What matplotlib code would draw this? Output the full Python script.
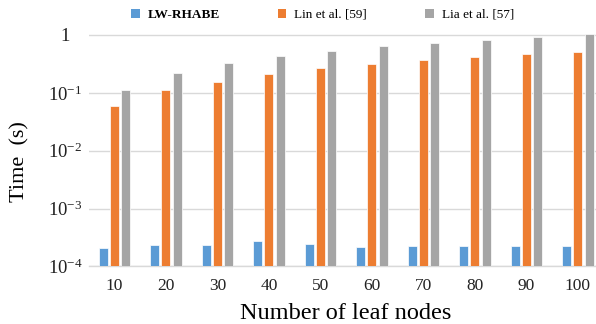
import matplotlib.pyplot as plt
import numpy as np
from matplotlib.patches import Patch

plt.rcParams["font.family"] = ["Liberation Serif", "DejaVu Serif"]
plt.rcParams["mathtext.fontset"] = "custom"
plt.rcParams["mathtext.rm"] = "Liberation Serif"
plt.rcParams["mathtext.it"] = "Liberation Serif:italic"
plt.rcParams["mathtext.bf"] = "Liberation Serif:bold"

# leaf node counts and times in seconds
leaf_nodes = ["10", "20", "30", "40", "50", "60", "70", "80", "90", "100"]
lw_rhabe = [2.08e-4, 2.38e-4, 2.31e-4, 2.71e-4, 2.47e-4, 2.19e-4, 2.28e-4, 2.28e-4, 2.28e-4, 2.28e-4]
lin_59 = [0.0597, 0.110, 0.157, 0.211, 0.264, 0.318, 0.364, 0.410, 0.462, 0.514]
lia_57 = [0.111, 0.219, 0.327, 0.427, 0.528, 0.644, 0.736, 0.820, 0.935, 1.03]

series_names = ["LW-RHABE", "Lin et al. [59]", "Lia et al. [57]"]
colors = ["#5B9BD5", "#ED7D31", "#A5A5A5"]

fig = plt.figure(figsize=(5.96, 3.24), dpi=100)
ax = fig.add_axes([0.1487, 0.1775, 0.864, 0.722])

x = np.arange(len(leaf_nodes))
pitch = 0.2185
width = 0.175
for i, (vals, c) in enumerate(zip([lw_rhabe, lin_59, lia_57], colors)):
    ax.bar(x + (i - 1) * pitch, vals, width, color=c, edgecolor="white",
           linewidth=0.5, zorder=3)

ax.set_yscale("log")
ax.set_ylim(1e-4, 1.1)
ax.set_xlim(-0.5, len(leaf_nodes) - 0.5)
ax.set_yticks([1e-4, 1e-3, 1e-2, 1e-1, 1])
ax.set_yticklabels([r"$10^{-4}$", r"$10^{-3}$", r"$10^{-2}$", r"$10^{-1}$", "1"])
ax.minorticks_off()
ax.set_xticks(x)
ax.set_xticklabels(leaf_nodes)
ax.tick_params(axis="both", length=0, labelsize=12.5, colors="#222222")
ax.tick_params(axis="y", labelsize=13.5, pad=17)
ax.tick_params(axis="x", pad=8)
for lab in ax.get_yticklabels():
    lab.set_horizontalalignment("center")

ax.grid(axis="y", color="#D9D9D9", linewidth=1, zorder=0)
for side in ["left", "right", "top"]:
    ax.spines[side].set_visible(False)
ax.spines["bottom"].set_color("#D9D9D9")
ax.spines["bottom"].set_linewidth(1)

ax.set_xlabel("Number of leaf nodes", fontsize=17.5, labelpad=7)
ax.set_ylabel("Time  (s)", fontsize=16)
ax.yaxis.set_label_coords(-0.114, 0.45)

handles = [Patch(facecolor=c, edgecolor="none") for c in colors]
leg = fig.legend(handles, series_names, loc="center", bbox_to_anchor=(0.541, 0.954),
                 ncol=3, frameon=False, fontsize=9.5, handlelength=0.65,
                 handleheight=0.65, handletextpad=0.6, columnspacing=4.4,
                 borderaxespad=0)
leg.get_texts()[0].set_fontweight("bold")

fig.savefig("out.png", dpi=100)
